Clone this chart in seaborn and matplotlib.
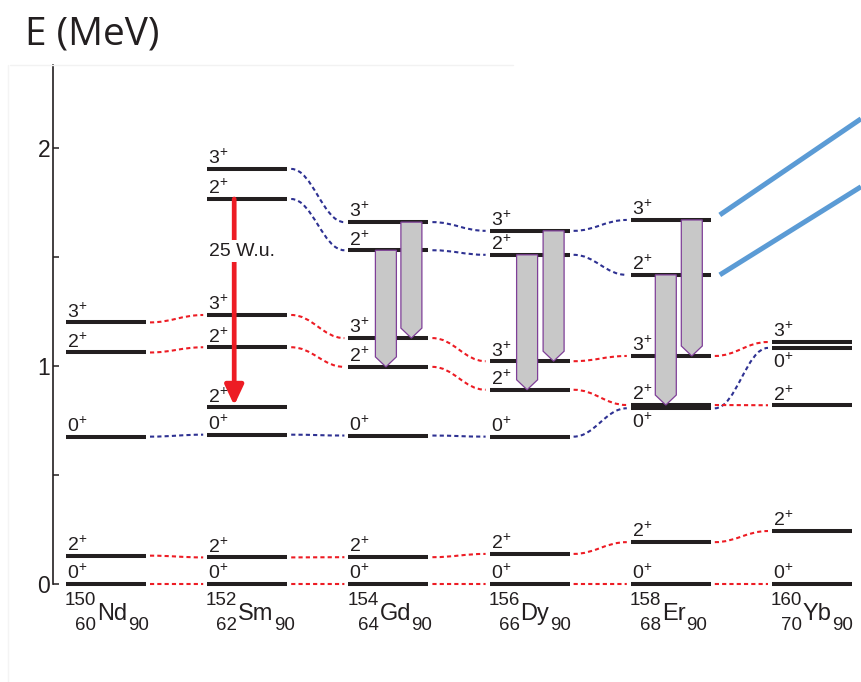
import numpy as np
import pandas as pd
import matplotlib
matplotlib.use("Agg")
import matplotlib.pyplot as plt
import seaborn as sns
from matplotlib.path import Path
from matplotlib.patches import PathPatch, Polygon

# ---------------- data ----------------
symbols = ["Nd", "Sm", "Gd", "Dy", "Er", "Yb"]
mass = [150, 152, 154, 156, 158, 160]
protons = [60, 62, 64, 66, 68, 70]
neutrons = 90

nan = np.nan
E_g0 = [0.0, 0.0, 0.0, 0.0, 0.0, 0.0]            # ground 0+
E_g2 = [0.130, 0.122, 0.123, 0.138, 0.192, 0.243]  # ground 2+
E_b0 = [0.676, 0.685, 0.681, 0.676, 0.806, 1.083]  # excited 0+
E_gam2 = [1.062, 1.086, 0.996, 0.891, 0.821, 0.820]  # gamma 2+
E_gam3 = [1.200, 1.234, 1.128, 1.022, 1.046, 1.110]  # gamma 3+
E_up2 = [nan, 1.766, 1.531, 1.510, 1.418, nan]     # upper 2+
E_up3 = [nan, 1.904, 1.660, 1.620, 1.670, nan]     # upper 3+
E_sm_b2 = 0.810                                    # 152Sm 2+ of the 0+ band
be2_label = "25 W.u."

# ---------------- style ----------------
sns.set_theme(style="white")
plt.rcParams["font.family"] = ["Liberation Sans", "DejaVu Sans"]
plt.rcParams["mathtext.fontset"] = "custom"
plt.rcParams["mathtext.rm"] = "Liberation Sans"
plt.rcParams["mathtext.it"] = "Liberation Sans:italic"
plt.rcParams["mathtext.bf"] = "Liberation Sans:bold"

BLACK = "#231f20"
RED = "#ed1c24"
BLUE = "#2e3192"
GREY = "#c8c8c8"
PURPLE = "#7f3f98"
STEEL = "#5b9bd5"

W, H = 861, 682
PXX = 141.2   # px per column
PXY = 218.0   # px per MeV
X0PX = 106    # px of first column centre
def dx(p):
    return p / PXX
def dy(p):
    return p / PXY

fig = plt.figure(figsize=(W / 100, H / 100), dpi=100)
ax = fig.add_axes([53 / W, 1 - 584 / H, (W - 53) / W, (584 - 65) / H])
ax.set_xlim((53 - X0PX) / PXX, (W - X0PX) / PXX)
ax.set_ylim(0, (584 - 65) / PXY)
sns.despine(ax=ax, left=False, bottom=True, right=True, top=True)
ax.spines["left"].set_color(BLACK)
ax.spines["left"].set_linewidth(1.2)
ax.set_xticks([])
ax.set_yticks([0, 0.5, 1, 1.5, 2])
ax.set_yticklabels(["0", "", "1", "", "2"])
ax.tick_params(axis="y", direction="in", length=4, width=1.1, color=BLACK,
               labelsize=16.5, pad=2, labelcolor=BLACK, left=True)
ax.grid(False)
ax.set_facecolor("white")

HALF = dx(40)
GAP = dx(4)
BAR_LW = 2.9
LAB_FS = 14

bands = [
    (E_g0, "0", RED),
    (E_g2, "2", RED),
    (E_b0, "0", BLUE),
    (E_gam2, "2", RED),
    (E_gam3, "3", RED),
    (E_up2, "2", BLUE),
    (E_up3, "3", BLUE),
]


def level(i, e, spin, lab_below=False):
    ax.hlines(e, i - HALF, i + HALF, color=BLACK, lw=BAR_LW, zorder=2,
              capstyle="butt", clip_on=False)
    txt = spin + r"$^{\mathregular{+}}$"
    if lab_below:
        ax.text(i - HALF + dx(1), e - dy(4), txt, fontsize=LAB_FS, color=BLACK,
                ha="left", va="top", zorder=5)
    else:
        ax.text(i - HALF + dx(1), e + dy(5), txt, fontsize=LAB_FS, color=BLACK,
                ha="left", va="baseline", zorder=5)


def connector(x0, y0, x1, y1, color):
    L = x1 - x0
    verts = [(x0, y0), (x0 + 0.4 * L, y0), (x1 - 0.4 * L, y1), (x1, y1)]
    p = Path(verts, [Path.MOVETO, Path.CURVE4, Path.CURVE4, Path.CURVE4])
    patch = PathPatch(p, fill=False, edgecolor=color, lw=1.5,
                      linestyle=(0, (2, 1.5)), zorder=1)
    patch.set_clip_on(False)
    ax.add_patch(patch)


for E, spin, col in bands:
    for i, e in enumerate(E):
        if np.isnan(e):
            continue
        lab_below = (E is E_b0) and (i in (4, 5))
        level(i, e, spin, lab_below)
    for i in range(len(E) - 1):
        if np.isnan(E[i]) or np.isnan(E[i + 1]):
            continue
        connector(i + HALF + GAP, E[i], i + 1 - HALF - GAP, E[i + 1], col)

# extra 152Sm level
level(1, E_sm_b2, "2")

# red B(E2) arrow in 152Sm
xa = 1 - dx(13)
ax.annotate("", xy=(xa, E_sm_b2 + dy(2)), xytext=(xa, E_up2[1]),
            arrowprops=dict(arrowstyle="-|>,head_length=0.6,head_width=0.28",
                            color=RED, lw=3.4, mutation_scale=20,
                            shrinkA=0, shrinkB=0), zorder=4)
ax.text(1 - dx(5), dy(584 - 251), be2_label, fontsize=14, color=BLACK,
        ha="center", va="center", zorder=5,
        bbox=dict(boxstyle="square,pad=0.15", fc="white", ec="none"))

# grey transition arrows
AW = dx(21)
HEAD = dy(10)
arrow_offsets = {2: (-dx(2.5), dx(23)), 3: (-dx(2.5), dx(24)), 4: (-dx(5), dx(21))}
for i, (o1, o2) in arrow_offsets.items():
    for off, top, bot in ((o1, E_up2[i], E_gam2[i]), (o2, E_up3[i], E_gam3[i])):
        xc = i + off
        poly = Polygon([(xc - AW / 2, top), (xc + AW / 2, top),
                        (xc + AW / 2, bot + HEAD), (xc, bot),
                        (xc - AW / 2, bot + HEAD)], closed=True,
                       fc=GREY, ec=PURPLE, lw=0.9, zorder=3)
        ax.add_patch(poly)

# steel-blue pointer lines from 158Er upper levels
xr = ax.get_xlim()[1]
for e, lift, slope in ((E_up3[4], dy(5), 96 / 141), (E_up2[4], dy(0), 88 / 141)):
    xs = 4 + HALF + dx(9)
    ys = e + lift
    ye = ys + (xr - xs) * PXX * slope / PXY
    ax.plot([xs, xr], [ys, ye], color=STEEL, lw=3.6, solid_capstyle="butt",
            clip_on=False, zorder=4)

# nuclide labels
for i, (sym, A, Z) in enumerate(zip(symbols, mass, protons)):
    ax.text(i - dx(10), dy(-21), str(A), fontsize=13.5, color=BLACK,
            ha="right", va="baseline", clip_on=False)
    ax.text(i - dx(10), dy(-46), str(Z), fontsize=13.5, color=BLACK,
            ha="right", va="baseline", clip_on=False)
    t = ax.text(i - dx(9), dy(-36), sym, fontsize=17, color=BLACK,
                ha="left", va="baseline", clip_on=False)
    ax.annotate(str(neutrons), xy=(1, 0), xycoords=t, xytext=(0.5, -3.8),
                textcoords="offset points", fontsize=13.5, color=BLACK,
                ha="left", va="baseline", annotation_clip=False)

# axis title
fig.text(25 / W, 1 - 44 / H, "E (MeV)", fontsize=28, family=["Open Sans", "DejaVu Sans"],
         color=BLACK, ha="left", va="baseline")

# faint frame
fig.add_artist(plt.Line2D([10 / W, 513 / W], [1 - 65 / H, 1 - 65 / H],
                          color="#f2f2f2", lw=1))
fig.add_artist(plt.Line2D([8 / W, 8 / W], [1 - 65 / H, 0], color="#f4f4f4", lw=1))

fig.savefig("out.png", dpi=100, facecolor="white")
